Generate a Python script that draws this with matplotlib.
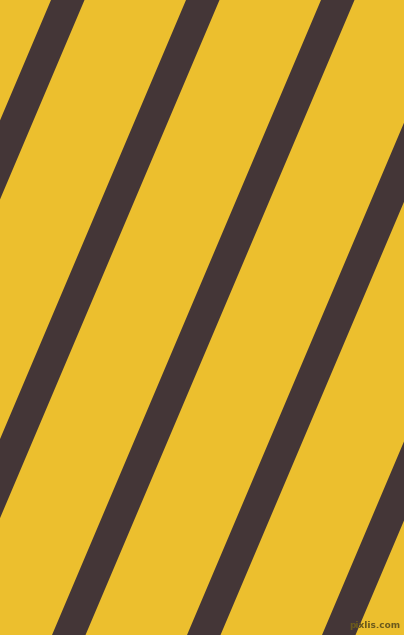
import numpy as np
import matplotlib
matplotlib.use("Agg")
from matplotlib import pyplot as plt

# left edge of each stripe where it meets the top border (pixels)
stripe_starts = [-84, 51, 186, 321, 456, 591, 726]
stripe_width = 33.5
lean = 0.4236  # horizontal shift per pixel going down

bg_color = "#ECBF2E"
stripe_color = "#443637"

W, H = 404, 635

fig = plt.figure(figsize=(W / 100, H / 100), dpi=100)
ax = fig.add_axes([0, 0, 1, 1])
ax.set_xlim(0, W)
ax.set_ylim(H, 0)
ax.set_facecolor(bg_color)
ax.axis("off")
fig.patch.set_facecolor(bg_color)

ys = np.array([0, H])
for x0 in stripe_starts:
    left = x0 - lean * ys
    ax.fill_betweenx(ys, left, left + stripe_width, color=stripe_color, lw=0)

ax.text(375, 625, "pixlis.com", fontsize=6.5, color="#6b5a1c",
        ha="center", va="center", fontweight="bold")

fig.savefig("out.png", dpi=100, facecolor=bg_color)
